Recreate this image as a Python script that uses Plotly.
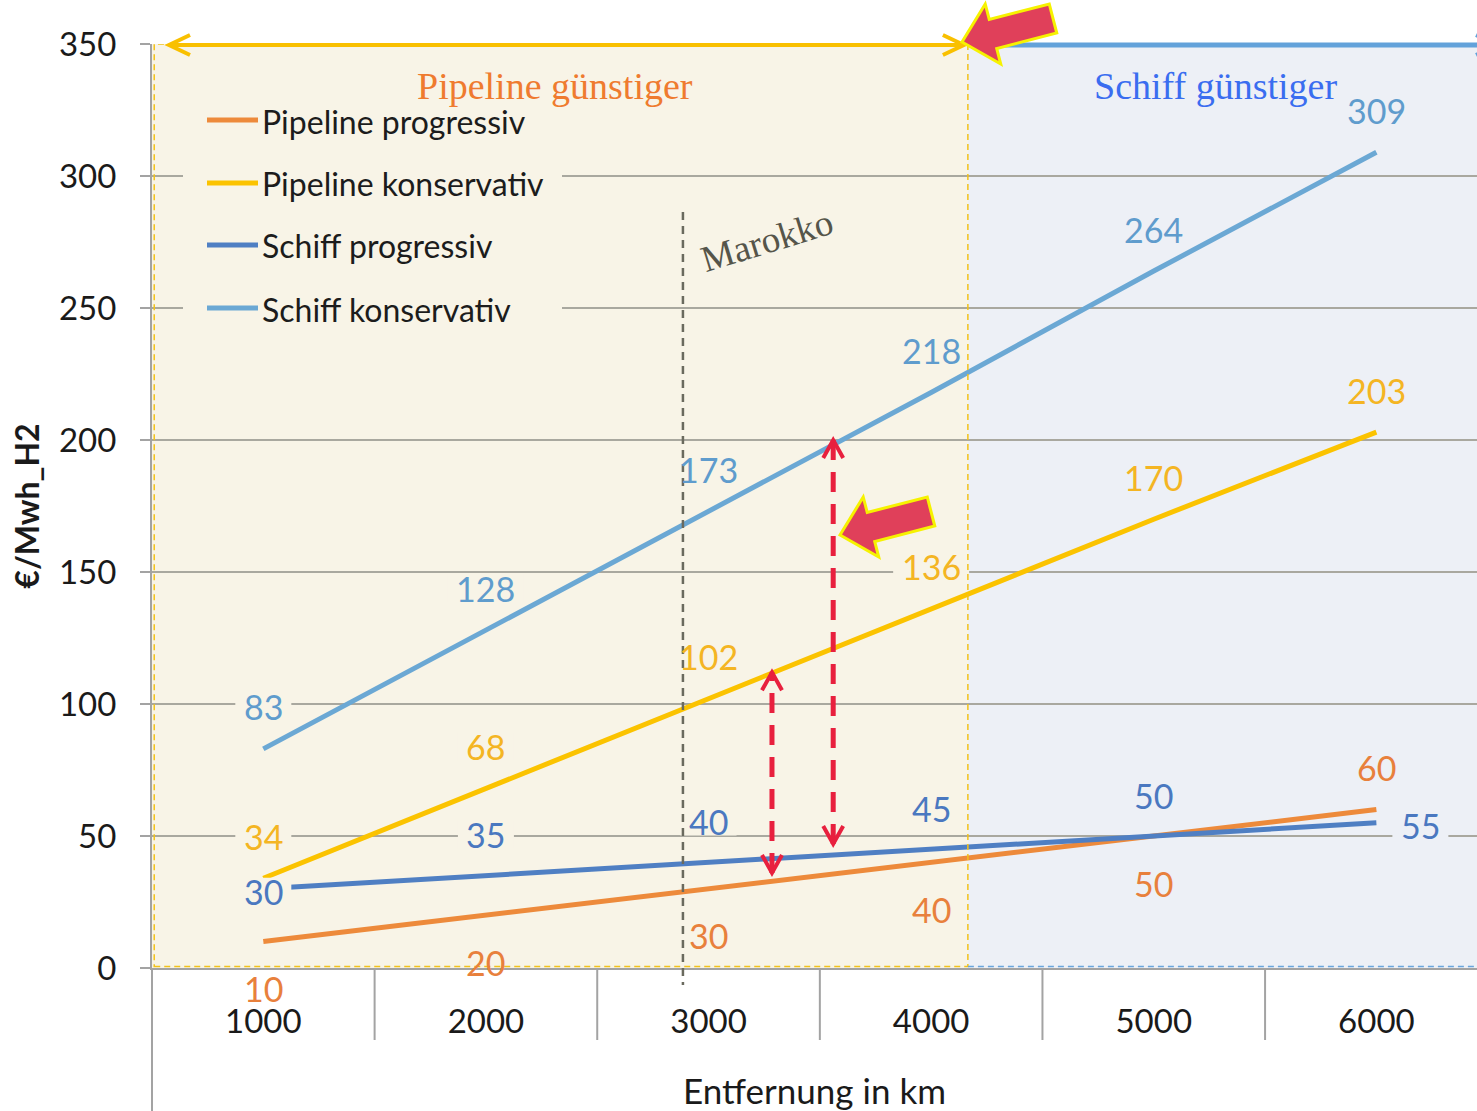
import plotly.graph_objects as go

# ---------------- data ----------------
distance_km = [1000, 2000, 3000, 4000, 5000, 6000]
x_tick_labels = ["1000", "2000", "3000", "4000", "5000", "6000"]
pipeline_progressiv = [10, 20, 30, 40, 50, 60]
pipeline_konservativ = [34, 68, 102, 136, 170, 203]
schiff_progressiv = [30, 35, 40, 45, 50, 55]
schiff_konservativ = [83, 128, 173, 218, 264, 309]
series_names = ["Pipeline progressiv", "Pipeline konservativ",
                "Schiff progressiv", "Schiff konservativ"]
y_tick_values = [0, 50, 100, 150, 200, 250, 300, 350]

marokko_km = 2885          # distance marker for Morocco
breakeven_km = 4165        # pipeline cheaper left of this, ship cheaper right of it
# cost gaps highlighted with dashed double arrows: (km, lower, upper)
gap_pipeline = [3285, 36, 112]
gap_schiff = [3560, 47, 200]

# ---------------- styling ----------------
W, H = 1477, 1111
M_L, M_R, M_T, M_B = 152, 0, 44, 143
PLOT_W, PLOT_H = W - M_L - M_R, H - M_T - M_B
X_RANGE = [500, 6452]
Y_RANGE = [0, 350]

FONT = "Lato"
SERIF = "Liberation Serif"
line_colors = ["#ed8a3b", "#fbc300", "#4f7fc3", "#6ba8d4"]
label_colors = ["#e8803c", "#f4b523", "#4a78c0", "#5f9ccd"]
BEIGE = "#f8f4e7"
PALE_BLUE = "#edf0f6"
GRID = "#a9a89f"
AXIS = "#a3a3a3"
RED = "#e8203e"
LABEL_SIZE = 34

# label offsets (xshift, yshift) per series and point
label_shifts = [
    [(0, -47)] * 5 + [(0, 42)],
    [(0, 42)] * 6,
    [(0, -3)] + [(0, 41)] * 4 + [(44, -3)],
    [(0, 42)] * 6,
]
# series whose labels clear a gap in the grid lines behind them
label_has_bg = [False, True, True, True]
# the first ship label also masks the start of its own line
label_bg_on_top = [[False] * 6, [False] * 6, [True] + [False] * 5, [False] * 6]


def data_to_px_x(v):
    return M_L + (v - X_RANGE[0]) / (X_RANGE[1] - X_RANGE[0]) * PLOT_W


def data_to_px_y(v):
    return M_T + PLOT_H - (v - Y_RANGE[0]) / (Y_RANGE[1] - Y_RANGE[0]) * PLOT_H


def px_to_data_x(px):
    return X_RANGE[0] + (px - M_L) / PLOT_W * (X_RANGE[1] - X_RANGE[0])


def px_to_data_y(py):
    return Y_RANGE[0] + (M_T + PLOT_H - py) / PLOT_H * (Y_RANGE[1] - Y_RANGE[0])


def paper_x(px):
    return (px - M_L) / PLOT_W


def paper_y(py):
    return (M_T + PLOT_H - py) / PLOT_H


def path_from_px(points, closed=False):
    parts = []
    for i, (px, py) in enumerate(points):
        parts.append(("M" if i == 0 else "L") + f"{paper_x(px):.5f},{paper_y(py):.5f}")
    return " ".join(parts) + (" Z" if closed else "")


def chevron(tip, direction, length, half_width):
    tx, ty = tip
    dx, dy = direction
    nx, ny = -dy, dx
    a = (tx - dx * length + nx * half_width, ty - dy * length + ny * half_width)
    b = (tx - dx * length - nx * half_width, ty - dy * length - ny * half_width)
    return path_from_px([a, tip, b])


def block_arrow(tip, ux=0.9682, uy=-0.2502, total=94, head=32, head_hw=31, shaft_hw=15):
    # polygon of a thick arrow; (ux, uy) points from the tip back to the tail
    tx, ty = tip
    nx, ny = -uy, ux
    bx, by = tx + ux * head, ty + uy * head
    ex, ey = tx + ux * total, ty + uy * total
    pts = [
        (tx, ty),
        (bx - nx * head_hw, by - ny * head_hw),
        (bx - nx * shaft_hw, by - ny * shaft_hw),
        (ex - nx * shaft_hw, ey - ny * shaft_hw),
        (ex + nx * shaft_hw, ey + ny * shaft_hw),
        (bx + nx * shaft_hw, by + ny * shaft_hw),
        (bx + nx * head_hw, by + ny * head_hw),
    ]
    return path_from_px(pts, closed=True)


def panel_rect(x0_px, x1_px, y0_px, y1_px, color, layer="between"):
    # opaque panel; "between" keeps it above the grid lines but below the data lines
    return dict(type="rect", xref="x", yref="y",
                x0=px_to_data_x(x0_px), x1=px_to_data_x(x1_px),
                y0=px_to_data_y(y1_px), y1=px_to_data_y(y0_px),
                fillcolor=color, line_width=0, layer=layer)


fig = go.Figure()

series_values = [pipeline_progressiv, pipeline_konservativ,
                 schiff_progressiv, schiff_konservativ]
for name, vals, color in zip(series_names, series_values, line_colors):
    fig.add_trace(go.Scatter(
        x=distance_km, y=vals, mode="lines", name=name,
        line=dict(color=color, width=5), showlegend=False, hoverinfo="skip",
    ))

shapes = []
annotations = []

# shaded regions
shapes.append(dict(type="rect", xref="x", yref="y", x0=X_RANGE[0], x1=breakeven_km,
                   y0=Y_RANGE[0], y1=Y_RANGE[1], fillcolor=BEIGE, line_width=0, layer="below"))
shapes.append(dict(type="rect", xref="x", yref="y", x0=breakeven_km, x1=X_RANGE[1],
                   y0=Y_RANGE[0], y1=Y_RANGE[1], fillcolor=PALE_BLUE, line_width=0, layer="below"))

# value label backgrounds (gaps in the grid lines)
for vals, shifts, has_bg, on_top in zip(series_values, label_shifts, label_has_bg, label_bg_on_top):
    if not has_bg:
        continue
    for km, v, (xs, ys), top in zip(distance_km, vals, shifts, on_top):
        cx = data_to_px_x(km) + xs
        cy = data_to_px_y(v) - ys
        half_w = len(str(v)) * 10 + 8
        bg = BEIGE if km < breakeven_km else PALE_BLUE
        shapes.append(panel_rect(cx - half_w, cx + half_w, cy - 14, cy + 14, bg,
                                 layer="above" if top else "between"))

# dashed region borders
shapes.append(dict(type="rect", xref="x", yref="y", x0=X_RANGE[0] + 10, x1=breakeven_km,
                   y0=Y_RANGE[0] + 0.6, y1=Y_RANGE[1], line=dict(color="#f2c21a", width=1.5, dash="6px,4px"),
                   fillcolor="rgba(0,0,0,0)", layer="above"))
shapes.append(dict(type="line", xref="x", yref="y", x0=breakeven_km, x1=X_RANGE[1],
                   y0=Y_RANGE[0] + 0.6, y1=Y_RANGE[0] + 0.6,
                   line=dict(color="#6aa5dc", width=1.5, dash="6px,4px"), layer="above"))

# legend panel
shapes.append(panel_rect(183, 562, 98, 334, BEIGE))
legend_rows = [120, 183, 245, 308]
for name, color, row in zip(series_names, line_colors, legend_rows):
    shapes.append(dict(type="line", xref="paper", yref="paper", x0=paper_x(207), x1=paper_x(258),
                       y0=paper_y(row), y1=paper_y(row), line=dict(color=color, width=5), layer="above"))
    annotations.append(dict(xref="paper", yref="paper", x=paper_x(260), y=paper_y(row + 1),
                            text=name, showarrow=False, xanchor="left", yanchor="middle",
                            font=dict(family=FONT, size=32, color="#1c1c1c")))

# divider ticks below the x axis
for k in range(1, 6):
    xb = distance_km[0] + 500 + (k - 1) * 1000
    shapes.append(dict(type="line", xref="x", yref="paper", x0=xb, x1=xb, y0=0, y1=paper_y(1040),
                       line=dict(color=AXIS, width=2)))
shapes.append(dict(type="line", xref="paper", yref="paper", x0=0, x1=0, y0=0, y1=paper_y(1111),
                   line=dict(color=AXIS, width=2)))

# Morocco marker
shapes.append(dict(type="line", xref="x", yref="paper", x0=marokko_km, x1=marokko_km,
                   y0=paper_y(212), y1=paper_y(985),
                   line=dict(color="#6a6a5e", width=2.5, dash="8px,6px"), layer="above"))
annotations.append(dict(xref="paper", yref="paper", x=paper_x(767), y=paper_y(240),
                        xanchor="center", yanchor="middle",
                        text="Marokko", showarrow=False, textangle=-17,
                        font=dict(family=SERIF, size=37, color="#55554a")))

# region captions
annotations.append(dict(xref="paper", yref="paper", x=paper_x(555), y=paper_y(86),
                        xanchor="center", yanchor="middle",
                        text="Pipeline günstiger", showarrow=False,
                        font=dict(family=SERIF, size=38, color="#ef7b2f")))
annotations.append(dict(xref="paper", yref="paper", x=paper_x(1215), y=paper_y(86),
                        xanchor="center", yanchor="middle",
                        text="Schiff günstiger", showarrow=False,
                        font=dict(family=SERIF, size=38, color="#3a6df0")))

# arrows along the top edge
top_py = data_to_px_y(Y_RANGE[1]) + 1
left_px, split_px = 169, data_to_px_x(breakeven_km) - 4
shapes.append(dict(type="line", xref="paper", yref="paper", x0=paper_x(left_px), x1=paper_x(split_px),
                   y0=paper_y(top_py), y1=paper_y(top_py), line=dict(color="#f9c000", width=4), layer="above"))
for tip, d in [((left_px, top_py), (-1, 0)), ((split_px, top_py), (1, 0))]:
    shapes.append(dict(type="path", xref="paper", yref="paper", path=chevron(tip, d, 21, 10),
                       line=dict(color="#f9c000", width=4), layer="above"))
blue_start = data_to_px_x(breakeven_km) + 2
shapes.append(dict(type="line", xref="paper", yref="paper", x0=paper_x(blue_start), x1=paper_x(1497),
                   y0=paper_y(top_py), y1=paper_y(top_py), line=dict(color="#63a2da", width=5), layer="above"))
shapes.append(dict(type="path", xref="paper", yref="paper", path=chevron((1497, top_py), (1, 0), 21, 10),
                   line=dict(color="#63a2da", width=4), layer="above"))

# red dashed double arrows marking cost gaps
for km, lo, hi in [gap_pipeline, gap_schiff]:
    shapes.append(dict(type="line", xref="x", yref="y", x0=km, x1=km, y0=lo, y1=hi,
                       line=dict(color=RED, width=5, dash="20px,12px"), layer="above"))
    xpx = data_to_px_x(km)
    shapes.append(dict(type="path", xref="paper", yref="paper",
                       path=chevron((xpx, data_to_px_y(hi)), (0, -1), 18, 10),
                       line=dict(color=RED, width=4), layer="above"))
    shapes.append(dict(type="path", xref="paper", yref="paper",
                       path=chevron((xpx, data_to_px_y(lo)), (0, 1), 18, 10),
                       line=dict(color=RED, width=4), layer="above"))

# highlight block arrows
for tip in [(962, 42), (840, 535)]:
    shapes.append(dict(type="path", xref="paper", yref="paper", path=block_arrow(tip),
                       fillcolor="#e0405a", line=dict(color="#f6f200", width=3), layer="above"))

# value labels
for vals, lcolor, shifts in zip(series_values, label_colors, label_shifts):
    for km, v, (xs, ys) in zip(distance_km, vals, shifts):
        annotations.append(dict(x=km, y=v, xref="x", yref="y", text=str(v), showarrow=False,
                                xanchor="center", yanchor="middle",
                                xshift=xs, yshift=ys,
                                font=dict(family=FONT, size=LABEL_SIZE, color=lcolor)))

fig.update_layout(
    width=W, height=H,
    margin=dict(l=M_L, r=M_R, t=M_T, b=M_B, pad=0),
    paper_bgcolor="white", plot_bgcolor="white",
    showlegend=False,
    font=dict(family=FONT, color="#1a1a1a"),
    shapes=shapes, annotations=annotations,
)
fig.update_xaxes(
    range=X_RANGE, tickvals=distance_km, ticktext=x_tick_labels, ticks="",
    showgrid=False, zeroline=False, showline=True, linecolor=AXIS, linewidth=2,
    tickfont=dict(family=FONT, size=33, color="#1a1a1a"), ticklabelstandoff=23,
    title=dict(text="Entfernung in km", font=dict(family=FONT, size=35, color="#1a1a1a"), standoff=42),
)
fig.update_yaxes(
    range=Y_RANGE, tickvals=y_tick_values, showgrid=True, gridcolor=GRID, gridwidth=2,
    zeroline=False, showline=True, linecolor=AXIS, linewidth=2,
    ticks="outside", ticklen=10, tickwidth=2, tickcolor=AXIS,
    tickfont=dict(family=FONT, size=33, color="#1a1a1a"), ticklabelstandoff=17,
    title=dict(text="<b>€/Mwh_H2</b>", font=dict(family=FONT, size=32, color="#1a1a1a"), standoff=10),
)

fig.write_html("out.html")
